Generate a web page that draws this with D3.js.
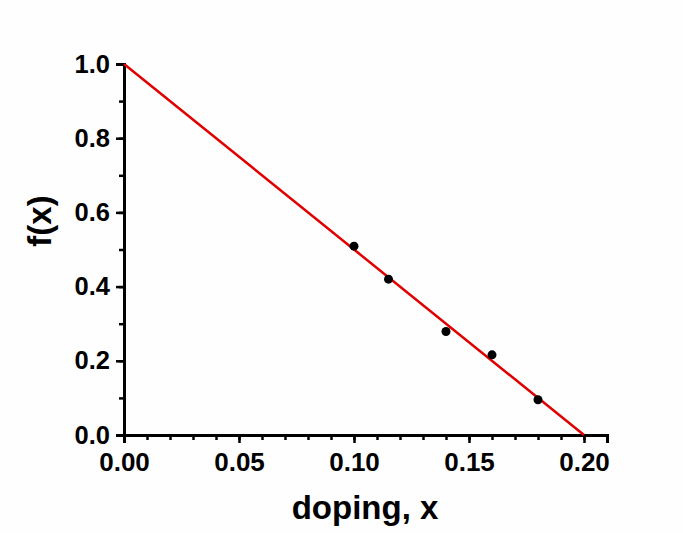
<!DOCTYPE html>
<html><head><meta charset="utf-8">
<script src="https://d3js.org/d3.v7.min.js"></script>
<style>body{margin:0;background:#fff}svg{display:block}</style>
</head><body>
<script>
const pointsX = [0.10, 0.115, 0.14, 0.16, 0.18];
const pointsY = [0.509, 0.42, 0.279, 0.216, 0.095];
const fitX = [0.0, 0.2];
const fitY = [1.0, 0.0];
const xTicks = [0.00, 0.05, 0.10, 0.15, 0.20];
const yTicks = [0.0, 0.2, 0.4, 0.6, 0.8, 1.0];

const W = 683, H = 533;
const svg = d3.select("body").append("svg").attr("width", W).attr("height", H);
svg.append("rect").attr("width", W).attr("height", H).attr("fill", "#fefefe");

const x = d3.scaleLinear().domain([0, 0.21]).range([124, 607]);
const y = d3.scaleLinear().domain([0, 1]).range([435, 64]);
const font = "Arial, 'Liberation Sans', sans-serif";

const gx = svg.append("g").attr("transform", "translate(0,435)");
gx.call(d3.axisBottom(x).tickValues(d3.range(0, 0.2101, 0.01)).tickSize(5).tickFormat(""));
gx.append("g").call(d3.axisBottom(x).tickValues(xTicks).tickSize(8).tickFormat(d3.format(".2f")));
gx.selectAll("path").attr("stroke", "#000").attr("stroke-width", 3);
gx.selectAll("line").attr("stroke", "#000").attr("stroke-width", 2.5);
gx.selectAll("text").attr("font-family", font).attr("font-weight", "bold").attr("font-size", 26).attr("fill", "#000").attr("y", 36).attr("dy", 0);

const gy = svg.append("g").attr("transform", "translate(124,0)");
gy.call(d3.axisLeft(y).tickValues(d3.range(0, 1.001, 0.1)).tickSize(5).tickFormat(""));
gy.append("g").call(d3.axisLeft(y).tickValues(yTicks).tickSize(8).tickFormat(d3.format(".1f")));
gy.selectAll("path").attr("stroke", "#000").attr("stroke-width", 3);
gy.selectAll("line").attr("stroke", "#000").attr("stroke-width", 2.5);
gy.selectAll("text").attr("font-family", font).attr("font-weight", "bold").attr("font-size", 25.5).attr("fill", "#000").attr("x", -14);

const line = d3.line().x(d => x(d[0])).y(d => y(d[1]));
svg.append("path").datum(fitX.map((v, i) => [v, fitY[i]]))
  .attr("d", line).attr("stroke", "#e00000").attr("stroke-width", 2.5).attr("fill", "none");

svg.selectAll("circle.pt").data(pointsX.map((v, i) => [v, pointsY[i]])).enter()
  .append("circle").attr("class", "pt").attr("cx", d => x(d[0])).attr("cy", d => y(d[1]))
  .attr("r", 4.5).attr("fill", "#000");

svg.append("text").attr("x", 365).attr("y", 519).attr("text-anchor", "middle")
  .attr("font-family", font).attr("font-weight", "bold").attr("font-size", 33).text("doping, x");
svg.append("text").attr("transform", "translate(51,221) rotate(-90)").attr("text-anchor", "middle")
  .attr("font-family", font).attr("font-weight", "bold").attr("font-size", 33).text("f(x)");
</script>
</body></html>
